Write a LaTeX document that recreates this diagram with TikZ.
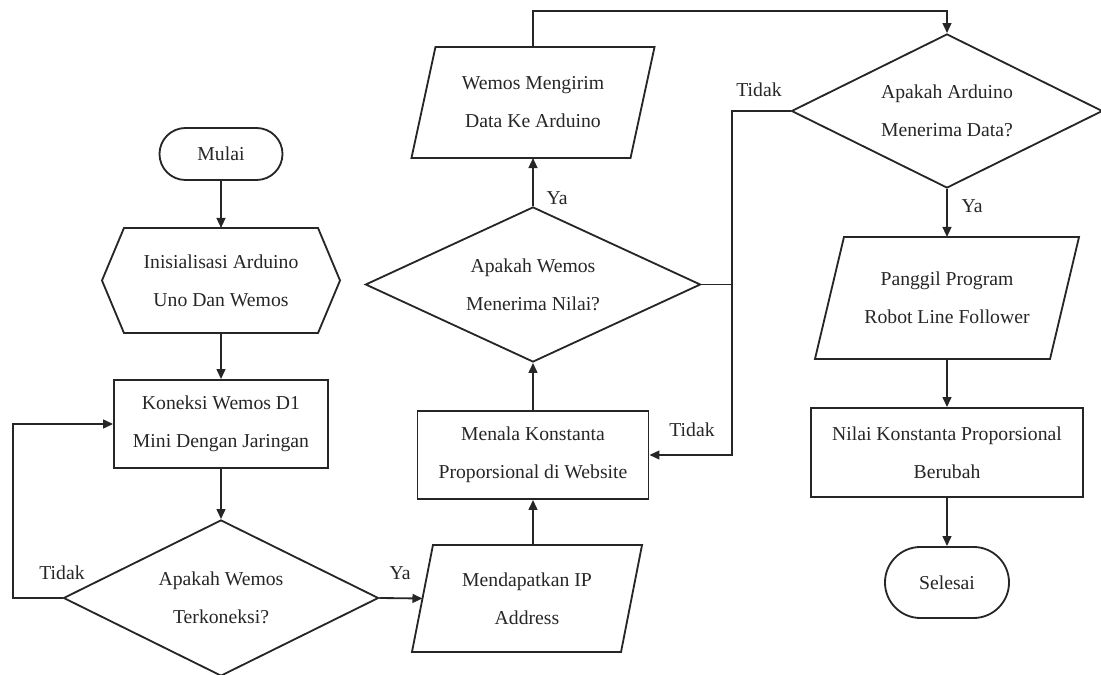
\documentclass[tikz,border=0pt]{standalone}
\usepackage{fontspec}
\setmainfont{Liberation Serif}
\usetikzlibrary{shapes.geometric,shapes.misc,arrows.meta}
\begin{document}
\begin{tikzpicture}[x=0.025cm,y=-0.025cm,
  every node/.style={font=\fontsize{14}{27}\selectfont, text=black!85, align=center},
  line/.style={draw=black!85, line width=1.3pt},
  arr/.style={line, -{Triangle[length=0.25cm,width=0.22cm]}},
  term/.style={rounded rectangle, line, inner sep=0pt},
  proc/.style={rectangle, line, inner sep=0pt},
  dec/.style={diamond, aspect=2, line, inner sep=0pt},
  shp/.style={rectangle, inner sep=0pt, outer sep=0pt},
  lbl/.style={inner sep=0pt}]
\useasboundingbox (0,0) rectangle (1101,675);
\coordinate (lp) at (13,0);
\coordinate (topy) at (0,11);
\coordinate (rx) at (732,0);

% column 1
\node[term, minimum width=3.075cm, minimum height=1.3cm] (start) at (221,154) {Mulai};
\node[shp, minimum width=5.95cm, minimum height=2.625cm] (init) at (221,280.5) {Inisialisasi Arduino\\Uno Dan Wemos};
\draw[line] (init.west) -- ([xshift=0.55cm]init.north west) -- ([xshift=-0.55cm]init.north east)
  -- (init.east) -- ([xshift=-0.55cm]init.south east) -- ([xshift=0.55cm]init.south west) -- cycle;
\node[proc, minimum width=5.35cm, minimum height=2.2cm] (kon) at (221,424) {Koneksi Wemos D1\\Mini Dengan Jaringan};
\node[dec, minimum width=7.875cm, minimum height=3.9cm] (d1) at (221,598) {Apakah Wemos\\Terkoneksi?};

% column 2
\node[shp, minimum width=5.75cm, minimum height=2.675cm] (ip) at (527,598.5) {Mendapatkan IP\\Address};
\draw[line] ([xshift=0.525cm]ip.north west) -- (ip.north east) -- ([xshift=-0.525cm]ip.south east) -- (ip.south west) -- cycle;
\node[proc, minimum width=5.775cm, minimum height=2.2cm] (men) at (533,455) {Menala Konstanta\\Proporsional di Website};
\node[dec, minimum width=8.375cm, minimum height=3.875cm] (d2) at (533,284.5) {Apakah Wemos\\Menerima Nilai?};
\node[shp, minimum width=6.075cm, minimum height=2.775cm] (kir) at (533,102.5) {Wemos Mengirim\\Data Ke Arduino};
\draw[line] ([xshift=0.6cm]kir.north west) -- (kir.north east) -- ([xshift=-0.6cm]kir.south east) -- (kir.south west) -- cycle;

% column 3
\node[dec, minimum width=7.775cm, minimum height=3.85cm] (d3) at (947,111) {Apakah Arduino\\Menerima Data?};
\node[shp, minimum width=6.6cm, minimum height=3.05cm] (pg) at (947,298) {Panggil Program\\Robot Line Follower};
\draw[line] ([xshift=0.725cm]pg.north west) -- (pg.north east) -- ([xshift=-0.725cm]pg.south east) -- (pg.south west) -- cycle;
\node[proc, minimum width=6.8cm, minimum height=2.225cm] (nil) at (947,452.5) {Nilai Konstanta Proporsional\\Berubah};
\node[term, minimum width=3.1cm, minimum height=1.775cm] (sel) at (947,582.5) {Selesai};

% connectors
\draw[arr] (start) -- (init);
\draw[arr] (init) -- (kon);
\draw[arr] (kon) -- (d1);
\draw[arr] (d1.west) -- (d1.west -| lp) |- (kon.west);
\draw[arr] (d1.east) -- ([xshift=0.2625cm]ip.west);
\draw[arr] (men.south |- ip.north) -- (men.south);
\draw[arr] (men) -- (d2);
\draw[arr] (d2) -- (kir);
\draw[arr] (kir.north) -- (kir.north |- topy) -| (d3.north);
\draw[arr] (d3.west) -- (d3.west -| rx) -- (rx |- men.east) -- (men.east);
\draw[line] (d2.east) -- (d2.east -| rx);
\draw[arr] (d3) -- (pg);
\draw[arr] (pg) -- (nil);
\draw[arr] (nil) -- (sel);

% labels
\node[lbl] (ya1) at (400,573) {Ya};
\node[lbl] (ya2) at (557,198) {Ya};
\node[lbl] (ya3) at (972,206) {Ya};
\node[lbl] (td1) at (62,573) {Tidak};
\node[lbl] (td2) at (759,90) {Tidak};
\node[lbl] (td3) at (692,430) {Tidak};
\end{tikzpicture}
\end{document}
